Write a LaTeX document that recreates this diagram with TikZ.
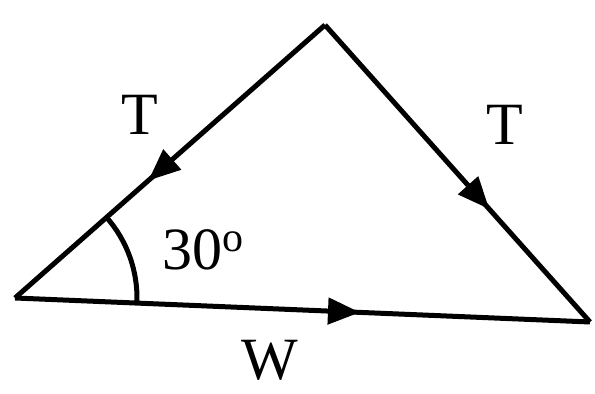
\documentclass[tikz,border=0pt]{standalone}
\usepackage{fontspec}
\setmainfont{Liberation Serif}
\usetikzlibrary{arrows.meta,decorations.markings}

\begin{document}
\begin{tikzpicture}[x=0.5pt, y=0.5pt, line width=2.5pt, line join=miter,
  every node/.style={font=\fontsize{30}{35}\selectfont},
  midarrow/.style={postaction={decorate}, decoration={markings, mark=at position #1 with {\arrow{Triangle[length=16pt,width=13pt]}}}}]
\useasboundingbox (0,0) rectangle (595,394);
\coordinate (left) at (15,96);
\coordinate (top) at (325,369);
\coordinate (right) at (590,72);
% the three forces
\draw[midarrow=0.57] (top) -- (left);
\draw[midarrow=0.62] (top) -- (right);
\draw[midarrow=0.6] (left) -- (right);
% angle at the left corner
\draw (left) ++(-2.4:122) arc[start angle=-2.4, end angle=41.4, radius=122];
\node (tleft) at (140,279) {T};
\node (tright) at (505,269) {T};
\node (ang) at (203,144) {30\textsuperscript{o}};
\node (w) at (270,34) {W};
\end{tikzpicture}
\end{document}
